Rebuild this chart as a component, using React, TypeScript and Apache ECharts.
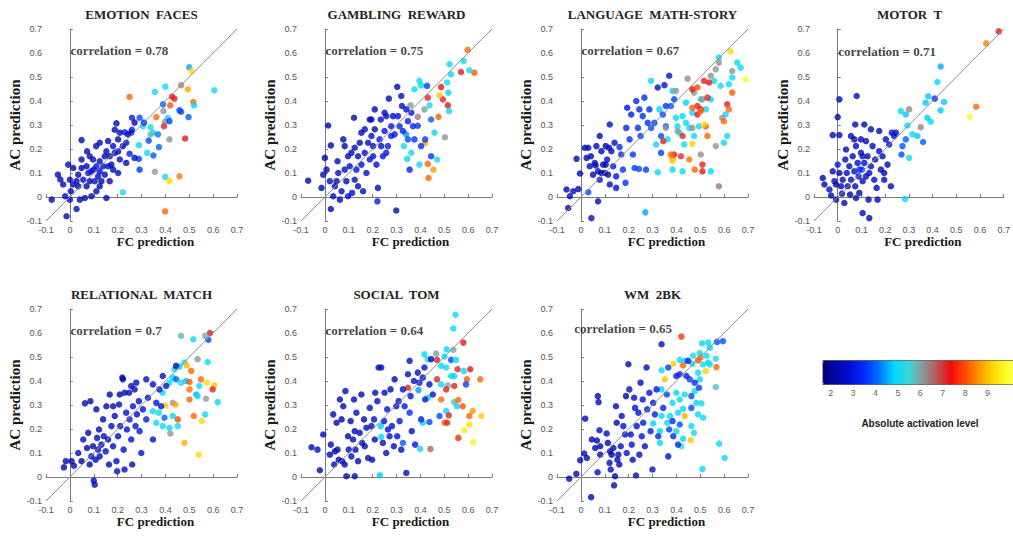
import React, { useEffect, useRef } from "react";
import * as echarts from "echarts";

type P = [number, number, number];

const TITLES = ["EMOTION  FACES", "GAMBLING  REWARD", "LANGUAGE  MATH-STORY", "MOTOR  T", "RELATIONAL  MATCH", "SOCIAL  TOM", "WM  2BK"];
const CORRELATIONS = ["0.78", "0.75", "0.67", "0.71", "0.7", "0.64", "0.65"];
const CORR_X = [0, 0, 0, 0, 0, 0, -0.03];
const CORR_Y = [0.61, 0.61, 0.61, 0.605, 0.61, 0.61, 0.618];
const AXIS_MIN = -0.1;
const AXIS_MAX = 0.7;
const AXIS_STEP = 0.1;
const COLORBAR_TICKS = [2, 3, 4, 5, 6, 7, 8, 9];
const COLORBAR_MIN = 1.6;
const COLORBAR_MAX = 10;
const COLORBAR_COLORS = ["#000080", "#0008aa", "#0010d8", "#0030ff", "#0078ff", "#00d8ff", "#38d8d8", "#8c9898", "#b85858", "#f00a0a", "#ff4a00", "#ff9a00", "#ffdc00", "#ffff30", "#ffff90"];

const emotionFaces: P[] = [
  [0.50,0.54,4.3],[0.51,0.525,8.8],[0.466,0.466,6.0],[0.40,0.46,4.7],[0.356,0.438,4.8],[0.25,0.417,7.8],[0.428,0.418,6.9],[0.438,0.41,6.8],[0.494,0.449,8.3],[0.605,0.445,4.8],[0.517,0.396,7.8],[0.52,0.382,4.6],[0.39,0.386,3.8],[0.42,0.382,7.7],[0.459,0.361,3.5],[0.466,0.355,3.6],[0.392,0.358,5.8],[0.362,0.333,7.8],[0.292,0.33,3.6],[0.41,0.33,4.7],[0.497,0.333,3.8],[0.399,0.314,5.9],[0.394,0.295,6.8],[0.417,0.316,3.5],[0.306,0.295,4.8],[0.338,0.291,4.9],[0.348,0.268,4.7],[0.369,0.261,4.0],[0.338,0.261,5.5],[0.289,0.216,4.7],[0.33,0.235,3.6],[0.373,0.208,3.8],[0.417,0.24,5.8],[0.483,0.244,6.9],[0.324,0.184,4.8],[0.35,0.173,3.7],[0.289,0.159,3.5],[0.292,0.114,3.5],[0.356,0.105,5.8],[0.399,0.084,4.8],[0.417,0.068,8.8],[0.459,0.086,8.0],[0.399,-0.06,7.8],[0.222,0.02,4.8],[0.25,0.18,3.0],[0.23,0.27,3.0],[0.26,0.28,3.2],[0.26,0.33,3.0],[0.31,0.31,3.2],
  [-0.076,-0.011,2.2],[-0.014,-0.08,2.3],[-0.05,0.093,2.2],[-0.04,0.073,2.4],[-0.007,0.135,2.3],[0.014,0.121,2.2],[-0.02,0.003,2.5],[0,-0.011,2.3],[0.004,0.024,2.2],[0.028,-0.05,2.4],[0.042,-0.011,2.3],[0.049,0.156,2.2],[0.049,0.237,2.3],[0.056,0.072,2.5],[0.07,0.045,2.3],[0.072,0.19,2.2],[0.077,0.1,2.6],[0.09,0.003,2.3],[0.097,0.156,2.4],[0.1,0.114,2.7],[0.11,0.212,2.3],[0.118,0.086,2.5],[0.125,0.045,2.2],[0.125,0.226,2.3],[0.139,0.128,2.6],[0.146,0.17,2.4],[0.153,-0.004,2.3],[0.16,0.233,2.2],[0.167,0.066,2.4],[0.174,0.135,2.3],[0.188,0.184,2.5],[0.195,0.307,2.2],[0.202,0.24,2.3],[0.202,0.1,2.4],[0.209,0.156,2.6],[0.222,0.212,2.4],[0.236,0.226,2.5],[0.243,0.261,2.6],[0.257,0.268,2.4],[0.271,0.31,2.3],[0.271,0.163,2.5],[0.236,0.142,2.4],[0.181,0.114,2.3],[0.167,0.17,2.2],[0.028,0.066,2.3],[0.035,0.045,2.2],[0.07,0.128,2.4],[0.083,0.066,2.3],[0.104,0.066,2.5],[0.111,0.024,2.2],[0.125,0.107,2.6],[0.132,0.066,2.3],[0.146,0.093,2.4],[0.16,0.128,2.5],[0.083,0.17,2.3],[0.111,0.128,2.8],[0.063,-0.004,2.2],[0.049,0.121,2.3],[0.014,0.052,2.4],[0,0.072,2.2],[-0.028,0.052,2.3],[0.035,0.093,2.2],[0.09,0.107,2.7],[0.125,0.149,2.4],[0.153,0.19,2.3],[0.181,0.212,2.5],[0.202,0.19,2.3],[0.209,0.268,2.4],[0.188,0.28,2.2]
];

const gamblingReward: P[] = [
  [0.598,0.613,7.8],[0.522,0.553,4.7],[0.581,0.567,4.7],[0.57,0.521,6.9],[0.626,0.518,7.7],[0.605,0.528,4.8],[0.528,0.511,4.8],[0.396,0.484,4.8],[0.403,0.465,4.6],[0.375,0.449,4.7],[0.487,0.458,6.9],[0.512,0.477,4.8],[0.517,0.435,4.7],[0.431,0.414,6.8],[0.494,0.407,6.8],[0.48,0.424,8.6],[0.515,0.382,6.9],[0.52,0.358,4.7],[0.359,0.382,5.8],[0.438,0.382,4.8],[0.417,0.365,5.7],[0.389,0.334,6.1],[0.476,0.334,7.8],[0.445,0.323,3.8],[0.459,0.268,4.7],[0.503,0.249,5.8],[0.42,0.226,8.2],[0.331,0.212,4.8],[0.362,0.184,4.8],[0.345,0.159,4.7],[0.396,0.135,4.8],[0.431,0.138,7.8],[0.47,0.156,4.8],[0.455,0.114,8.2],[0.434,0.079,7.8],[0.34,0.261,4.2],[0.348,0.24,3.6],[0.375,0.24,3.4],[0.389,0.297,3.4],[0.403,0.212,3.3],[0.42,0.24,3.5],[0.445,0.17,3.4],[0.428,0.463,3.5],
  [-0.07,0.068,2.2],[-0.014,0.038,2.3],[-0.007,0.093,2.4],[0,0.163,2.2],[0.014,0.298,2.3],[0.021,0.066,2.5],[0.025,-0.05,2.3],[0.025,0.215,2.2],[0.035,0.003,2.6],[0.042,0.045,2.4],[0.053,0.149,2.3],[0.056,0.1,2.5],[0.063,-0.011,2.3],[0.07,0.024,2.4],[0.077,0.24,2.2],[0.083,0.114,2.6],[0.09,0.066,2.3],[0.097,0.17,2.5],[0.104,0.128,2.4],[0.111,0.184,2.3],[0.114,0.017,2.7],[0.122,0.33,2.2],[0.125,0.072,2.5],[0.132,0.114,2.8],[0.139,0.17,2.4],[0.146,0.226,2.3],[0.153,0.268,2.2],[0.153,0.135,2.6],[0.16,0.024,2.4],[0.167,0.184,2.7],[0.174,0.1,2.5],[0.181,0.226,2.4],[0.188,0.156,2.9],[0.195,0.323,2.3],[0.195,0.254,2.5],[0.202,0.212,2.6],[0.209,0.282,2.4],[0.216,0.135,2.7],[0.222,0.038,2.4],[0.22,-0.018,3.0],[0.229,0.24,2.8],[0.234,0.323,2.5],[0.243,0.17,2.9],[0.25,0.275,2.7],[0.257,0.337,2.5],[0.264,0.212,3.0],[0.268,0.41,2.4],[0.278,0.295,2.8],[0.285,0.337,2.6],[0.292,0.261,3.0],[0.303,0.459,2.3],[0.306,0.337,2.8],[0.313,0.295,3.1],[0.32,0.421,2.5],[0.323,0.379,2.6],[0.327,0.275,3.1],[0.341,0.365,2.8],[0.348,0.316,3.0],[0.355,0.114,3.1],[0.362,0.351,2.9],[0.369,0.295,3.2],[0.299,-0.056,2.3],[0.236,0.212,2.7],[0.209,0.365,2.4],[0.167,0.282,2.5],[0.125,0.205,2.4],[0.083,0.212,2.3],[0.049,0.066,2.4],[0.007,0.114,2.2],[0.097,0.003,2.5],[0.139,0.045,2.3],[0.202,0.17,2.8],[0.257,0.184,2.9],[0.278,0.254,3.0],[0.25,0.351,2.6],[0.188,0.323,2.4]
];

const languageMathStory: P[] = [
  [-0.06,0.031,2.2],[-0.046,0.003,2.3],[-0.053,-0.046,2.2],[-0.032,0.024,2.4],[-0.011,0.033,2.3],[-0.018,0.159,2.2],[-0.004,0.098,2.3],[0.017,0.205,2.2],[0.031,0.205,2.4],[0.024,0.163,2.3],[0.037,0.128,2.5],[0.031,0.02,3.6],[0.044,-0.088,2.4],[0.051,0.093,2.3],[0.058,0.142,2.5],[0.065,0.212,2.2],[0.072,0.107,2.4],[0.072,-0.018,2.3],[0.079,0.254,2.2],[0.079,0.072,2.6],[0.086,0.191,2.3],[0.093,0.135,2.4],[0.1,0.1,2.5],[0.104,0.212,2.3],[0.11,0.156,2.6],[0.114,0.093,2.4],[0.121,0.302,2.8],[0.121,0.052,2.6],[0.128,0.191,2.5],[0.135,0.128,2.8],[0.141,0.226,2.6],[0.148,0.038,2.7],[0.148,0.086,2.9],[0.104,0.135,2.4],[0.086,0.1,2.3],[0.062,0.131,2.4],[0.042,0.17,2.2],[0.118,0.205,2.6],
  [0.162,0.208,3.2],[0.169,0.177,3.3],[0.187,0.059,3.4],[0.19,0.288,3.0],[0.194,0.372,2.8],[0.204,0.24,3.3],[0.211,0.344,3.0],[0.218,0.177,3.4],[0.225,0.121,3.5],[0.232,0.4,3.1],[0.239,0.288,3.3],[0.245,0.365,3.2],[0.25,0.254,3.4],[0.259,0.337,3.2],[0.266,0.414,3.3],[0.273,0.114,3.5],[0.28,0.309,3.4],[0.287,0.365,3.3],[0.294,0.288,3.6],[0.308,0.309,3.5],[0.322,0.456,2.6],[0.336,0.254,3.6],[0.343,0.344,3.5],[0.35,0.466,2.7],[0.356,0.379,3.4],[0.37,0.505,2.8],[0.377,0.379,3.6],[0.391,0.407,3.5],[0.176,0.114,3.4],[0.336,0.184,3.5],[0.243,0.117,3.6],[0.356,0.295,3.7],[0.27,-0.064,4.3],
  [0.294,0.484,4.7],[0.322,0.103,4.7],[0.329,0.365,4.6],[0.315,0.219,4.7],[0.363,0.24,4.8],[0.384,0.442,4.7],[0.398,0.33,4.6],[0.405,0.295,4.8],[0.412,0.268,4.7],[0.426,0.337,4.6],[0.44,0.309,4.7],[0.433,0.219,4.8],[0.454,0.288,4.7],[0.467,0.351,4.6],[0.474,0.254,4.7],[0.495,0.295,4.8],[0.523,0.365,4.7],[0.544,0.407,4.6],[0.558,0.484,4.7],[0.578,0.581,4.7],[0.585,0.463,4.8],[0.606,0.344,4.7],[0.62,0.47,4.6],[0.634,0.498,4.7],[0.655,0.56,4.7],[0.669,0.539,4.8],[0.599,0.226,4.7],[0.544,0.107,4.6],[0.613,0.254,4.8],[0.426,0.107,4.7],[0.384,0.114,4.7],[0.44,0.393,4.6],[0.502,0.407,4.7],
  [0.356,0.288,5.8],[0.447,0.493,5.9],[0.474,0.435,5.8],[0.509,0.407,5.8],[0.544,0.505,5.9],[0.565,0.532,5.8],[0.578,0.56,5.9],[0.592,0.33,5.8],[0.634,0.525,5.8],[0.502,0.177,5.9],[0.565,0.212,5.8],[0.578,0.045,6.1],[0.405,0.275,5.7],[0.398,0.442,5.8],[0.467,0.288,5.8],
  [0.345,0.233,6.8],[0.391,0.177,6.9],[0.426,0.254,6.8],[0.419,0.17,6.7],[0.467,0.449,6.9],[0.488,0.379,6.8],[0.502,0.365,6.9],[0.516,0.484,6.8],[0.53,0.414,6.8],[0.537,0.477,6.9],[0.509,0.135,6.8],[0.509,0.107,6.9],[0.613,0.386,6.8],[0.488,0.344,6.9],
  [0.377,0.177,7.8],[0.384,0.159,7.9],[0.467,0.372,7.7],[0.477,0.114,7.8],[0.454,0.156,7.9],[0.502,0.358,7.8],[0.523,0.295,7.6],[0.53,0.254,7.8],[0.634,0.435,7.7],[0.599,0.316,7.8],[0.62,0.365,7.8],[0.488,0.456,7.6],
  [0.384,0.149,8.8],[0.467,0.222,8.7],[0.516,0.302,8.8],[0.627,0.606,8.8],[0.69,0.49,9.3]
];

const motorT: P[] = [
  [0.679,0.69,6.9],[0.626,0.64,8.0],[0.584,0.376,7.8],[0.557,0.334,9.3],[0.434,0.544,4.3],[0.42,0.479,4.6],[0.409,0.41,3.2],[0.382,0.42,4.5],[0.371,0.393,4.5],[0.448,0.396,4.5],[0.434,0.361,4.5],[0.301,0.365,6.0],[0.287,0.344,4.5],[0.266,0.358,4.6],[0.378,0.33,4.5],[0.392,0.314,4.6],[0.35,0.291,6.0],[0.294,0.298,4.6],[0.315,0.261,4.6],[0.336,0.254,4.5],[0.36,0.229,3.8],[0.301,0.163,4.8],[0.287,0.24,3.8],[0.273,0.212,3.7],[0.269,0.177,3.6],[0.284,-0.008,4.6],
  [0.007,0.407,2.5],[0.08,0.421,2.6],[0.074,0.302,2.3],[0,0.333,2.2],[-0.021,0.258,2.3],[0.007,0.258,2.4],[0.056,0.254,2.3],[0.07,0.24,2.2],[0.119,0.233,2.4],[0.035,0.198,2.3],[-0.063,0.079,2.2],[-0.056,0.052,2.3],[-0.035,0.031,2.4],[-0.028,0.006,2.2],[-0.021,0.107,2.3],[-0.014,0.066,2.2],[-0.007,-0.011,2.4],[0,0.135,2.9],[0.007,0.1,2.3],[0.014,0.045,2.2],[0.018,0.014,2.4],[0.021,0.072,2.3],[0.028,-0.025,2.2],[0.032,0.156,2.4],[0.038,0.1,2.6],[0.042,0.045,2.3],[0.049,0.128,2.5],[0.052,0.01,2.2],[0.056,0.072,2.4],[0.063,0.17,2.3],[0.07,0.107,2.7],[0.074,0.045,2.4],[0.077,0.212,2.3],[0.084,0.142,2.5],[0.088,0.086,2.6],[0.091,0.017,2.3],[0.098,0.184,2.4],[0.102,0.114,3.3],[0.105,0.066,2.5],[0.105,-0.067,2.3],[0.112,0.142,2.6],[0.119,0.086,2.4],[0.126,0.17,2.3],[0.13,-0.011,2.2],[0.133,-0.088,2.1],[0.14,0.128,2.4],[0.147,0.212,2.3],[0.154,0.072,2.5],[0.158,0.156,2.4],[0.164,0.038,2.3],[0.175,0.191,2.6],[0.182,0.114,2.4],[0.189,0.17,2.5],[0.196,0.072,2.3],[0.203,0.24,2.7],[0.21,0.135,2.4],[0.217,0.219,2.6],[0.224,0.045,2.3],[0.228,0.268,2.8],[0.238,0.254,2.7],[0.245,0.268,2.6],[0.175,0.275,2.3],[0.14,0.282,2.4],[0.112,0.302,2.2],[0.098,0.24,2.4],[0.196,0.1,2.5],[-0.007,0.052,2.3],[0.077,-0.004,2.4],[0.133,0.1,2.5],[0.168,-0.011,2.3],[0.091,0.114,3.4],[0.105,0.17,2.6]
];

const relationalMatch: P[] = [
  [0.587,0.6,6.9],[0.466,0.588,5.5],[0.517,0.574,4.7],[0.58,0.572,3.5],[0.567,0.588,5.6],[0.535,0.491,5.8],[0.577,0.479,4.7],[0.48,0.477,4.8],[0.49,0.465,8.5],[0.508,0.442,7.8],[0.438,0.449,4.8],[0.459,0.46,4.7],[0.431,0.414,4.6],[0.417,0.393,4.7],[0.445,0.407,3.8],[0.466,0.393,4.7],[0.487,0.4,4.4],[0.501,0.396,7.7],[0.549,0.407,7.8],[0.574,0.393,8.8],[0.605,0.382,8.6],[0.598,0.365,6.8],[0.542,0.379,4.7],[0.501,0.365,7.9],[0.529,0.344,4.4],[0.501,0.323,7.8],[0.57,0.326,5.8],[0.535,0.337,4.7],[0.389,0.351,4.7],[0.4,0.298,8.6],[0.431,0.309,5.8],[0.442,0.302,8.3],[0.348,0.274,4.7],[0.373,0.268,4.7],[0.396,0.247,3.8],[0.431,0.254,4.6],[0.452,0.24,7.6],[0.519,0.254,7.8],[0.567,0.261,4.7],[0.619,0.312,4.7],[0.553,0.233,8.8],[0.362,0.226,4.7],[0.389,0.212,4.8],[0.417,0.205,4.6],[0.452,0.212,4.7],[0.421,0.181,5.8],[0.48,0.142,8.4],[0.54,0.093,8.8],
  [-0.025,0.04,2.2],[-0.017,0.066,2.3],[0.007,0.066,2.2],[0.017,0.047,2.4],[0.035,0.1,2.3],[0.049,0.066,2.2],[0.056,0.156,2.4],[0.063,0.307,2.3],[0.072,0.121,2.2],[0.077,0.184,2.4],[0.083,0.052,2.3],[0.086,0.316,2.2],[0.09,0.086,2.5],[0.097,0.128,2.3],[0.1,-0.015,2.4],[0.104,-0.032,2.6],[0.108,0.072,2.3],[0.111,0.282,2.2],[0.114,0.163,2.4],[0.118,0.114,2.6],[0.122,0.198,2.3],[0.125,0.086,2.5],[0.132,0.135,2.4],[0.139,0.24,2.3],[0.142,0.17,2.5],[0.15,0.107,2.6],[0.153,0.295,2.3],[0.16,0.156,2.4],[0.164,0.052,2.3],[0.167,0.344,2.2],[0.174,0.212,2.5],[0.181,0.128,2.4],[0.188,0.254,2.3],[0.195,0.066,2.4],[0.198,0.024,2.3],[0.202,0.17,2.6],[0.206,0.302,2.4],[0.211,0.212,2.5],[0.22,0.414,2.3],[0.222,0.407,2.2],[0.225,0.114,2.6],[0.229,0.031,2.5],[0.236,0.268,2.7],[0.239,0.198,2.8],[0.248,0.351,2.5],[0.25,0.24,2.9],[0.257,0.156,2.6],[0.261,0.052,2.4],[0.264,0.295,2.7],[0.271,0.365,2.4],[0.275,0.212,2.8],[0.281,0.261,2.6],[0.289,0.316,2.5],[0.292,0.191,2.9],[0.299,0.1,2.7],[0.306,0.282,2.8],[0.32,0.407,2.4],[0.327,0.33,2.6],[0.348,0.156,2.5],[0.362,0.309,2.9],[0.375,0.365,2.7],[0.389,0.421,2.4],[0.403,0.379,2.8],[0.445,0.463,2.5],[0.348,0.386,2.6],[0.278,0.393,2.4],[0.257,0.379,2.3],[0.229,0.351,2.5],[0.209,0.344,2.3],[0.181,0.295,2.4],[0.32,0.24,3.0],[0.382,0.295,2.9]
];

const socialTom: P[] = [
  [0.547,0.676,4.7],[0.538,0.619,4.7],[0.58,0.56,6.9],[0.51,0.532,4.7],[0.538,0.53,5.7],[0.466,0.514,5.7],[0.417,0.511,4.7],[0.431,0.49,4.8],[0.501,0.502,4.6],[0.529,0.488,3.6],[0.549,0.488,4.7],[0.47,0.488,6.8],[0.487,0.463,4.7],[0.508,0.456,4.8],[0.556,0.449,6.8],[0.582,0.442,4.7],[0.609,0.449,6.9],[0.47,0.407,6.8],[0.529,0.421,4.7],[0.542,0.421,4.6],[0.595,0.407,7.7],[0.651,0.407,7.8],[0.515,0.382,5.6],[0.508,0.365,6.8],[0.542,0.379,6.8],[0.591,0.386,3.5],[0.487,0.386,4.7],[0.348,0.372,6.8],[0.392,0.362,4.2],[0.431,0.33,4.7],[0.487,0.323,7.8],[0.542,0.312,5.5],[0.559,0.321,7.8],[0.577,0.295,7.6],[0.553,0.295,4.7],[0.619,0.275,8.2],[0.605,0.254,7.8],[0.655,0.254,8.7],[0.48,0.254,3.6],[0.508,0.275,4.7],[0.519,0.257,6.8],[0.501,0.226,7.8],[0.512,0.226,6.8],[0.605,0.219,8.8],[0.585,0.195,9.0],[0.559,0.163,7.3],[0.621,0.145,9.2],[0.442,0.117,6.3],[0.399,0.117,4.7],[0.327,0.142,3.8],[0.355,0.268,3.4],[0.41,0.226,4.7],[0.438,0.229,3.6],[0.23,0.007,4.5],[0.234,0.212,4.5],[0.236,0.167,4.6],
  [-0.056,0.124,2.2],[-0.031,0.114,2.3],[-0.021,0.028,2.2],[-0.007,0.177,2.4],[0.021,0.093,2.3],[0.025,0.135,2.2],[0.035,0.261,2.3],[0.039,0.052,2.4],[0.042,0.107,2.2],[0.049,0.226,2.3],[0.053,0.114,2.4],[0.058,0.072,2.2],[0.063,0.323,2.3],[0.07,0.24,2.2],[0.072,0.066,2.4],[0.077,0.295,2.3],[0.083,0.052,2.2],[0.086,0.358,2.4],[0.09,0.003,2.3],[0.097,0.17,2.2],[0.1,0.114,2.5],[0.108,0.233,2.3],[0.111,0.086,2.4],[0.118,0.156,2.3],[0.122,0.323,2.2],[0.125,0.191,2.4],[0.128,0.114,2.3],[0.132,0.268,2.5],[0.139,0.066,2.3],[0.146,0.184,2.4],[0.153,0.344,2.2],[0.156,0.142,2.5],[0.164,0.24,2.3],[0.174,0.205,2.4],[0.181,0.079,2.3],[0.188,0.288,2.5],[0.195,0.212,2.4],[0.198,0.072,2.3],[0.206,0.24,2.6],[0.211,0.351,2.4],[0.22,0.316,2.5],[0.225,0.456,2.3],[0.236,0.456,2.4],[0.243,0.142,2.6],[0.248,0.233,2.7],[0.25,0.351,2.5],[0.257,0.1,2.4],[0.261,0.282,2.8],[0.264,0.198,2.7],[0.271,0.17,2.5],[0.275,0.365,2.4],[0.281,0.212,2.8],[0.289,0.128,2.6],[0.292,0.407,2.3],[0.299,0.295,2.7],[0.303,0.17,2.5],[0.309,0.316,2.8],[0.313,0.233,2.9],[0.32,0.114,2.6],[0.327,0.365,2.7],[0.334,0.295,2.9],[0.341,0.017,2.4],[0.348,0.428,2.5],[0.355,0.484,2.6],[0.359,0.337,2.8],[0.364,0.191,2.7],[0.373,0.4,2.6],[0.378,0.135,2.8],[0.389,0.435,2.5],[0.396,0.393,2.7],[0.403,0.24,3.0],[0.41,0.414,2.6],[0.42,0.323,2.9],[0.438,0.386,2.7],[0.445,0.491,2.5],[0.452,0.344,2.8],[0.417,0.456,2.6],[0.209,0.156,2.4],[0.167,0.128,2.3],[0.125,0.003,2.2]
];

const wm2bk: P[] = [
  [0.421,0.585,7.4],[0.501,0.498,7.8],[0.491,0.486,7.7],[0.508,0.557,4.7],[0.533,0.56,4.7],[0.54,0.539,4.6],[0.57,0.563,3.6],[0.595,0.566,3.7],[0.498,0.516,4.7],[0.47,0.505,4.8],[0.526,0.505,4.7],[0.533,0.477,4.7],[0.565,0.493,5.0],[0.414,0.488,4.7],[0.435,0.484,4.6],[0.387,0.472,8.7],[0.428,0.465,7.8],[0.467,0.472,4.7],[0.512,0.469,4.8],[0.54,0.469,4.7],[0.568,0.458,7.8],[0.338,0.445,4.7],[0.366,0.456,3.5],[0.352,0.407,8.6],[0.523,0.442,8.7],[0.491,0.435,4.7],[0.456,0.407,3.5],[0.498,0.407,4.7],[0.338,0.365,4.7],[0.36,0.344,3.5],[0.4,0.351,4.6],[0.435,0.344,4.7],[0.477,0.358,4.7],[0.463,0.337,3.6],[0.495,0.372,3.5],[0.565,0.375,5.4],[0.384,0.309,4.7],[0.414,0.323,4.6],[0.428,0.284,4.7],[0.484,0.309,4.7],[0.505,0.307,4.8],[0.463,0.288,3.6],[0.338,0.254,4.7],[0.373,0.254,4.6],[0.407,0.268,4.7],[0.435,0.254,8.4],[0.491,0.261,4.7],[0.512,0.247,4.8],[0.362,0.226,4.7],[0.414,0.219,3.6],[0.463,0.212,4.7],[0.331,0.191,4.6],[0.37,0.198,3.5],[0.4,0.191,4.7],[0.46,0.153,8.6],[0.428,0.159,4.7],[0.474,0.184,4.8],[0.331,0.142,4.6],[0.421,0.128,5.2],[0.579,0.139,4.7],[0.602,0.079,4.7],[0.509,0.033,4.6],[0.303,0.223,4.6],
  [-0.049,-0.007,2.2],[-0.019,0.013,2.3],[-0.003,0.07,2.2],[0.014,0.098,2.4],[0.018,0.243,2.3],[0.025,0.079,2.2],[0.046,0.156,2.3],[0.043,-0.084,2.4],[0.06,0.121,2.2],[0.067,0.152,2.3],[0.07,0.02,2.4],[0.071,0.337,2.2],[0.074,0.312,2.3],[0.078,0.195,2.4],[0.081,0.128,2.3],[0.081,0.093,2.2],[0.108,0.181,2.4],[0.113,0.142,2.3],[0.12,0.059,2.5],[0.122,0.107,2.3],[0.125,0.031,2.4],[0.129,0.093,2.2],[0.136,0.121,2.5],[0.139,-0.035,2.3],[0.143,0.003,2.4],[0.147,0.295,2.3],[0.15,0.226,2.2],[0.153,0.072,2.5],[0.157,0.093,2.4],[0.161,0.052,2.3],[0.167,0.128,2.6],[0.171,0.254,2.4],[0.178,0.212,2.7],[0.185,0.177,2.5],[0.189,0.337,2.3],[0.192,0.1,2.6],[0.199,0.47,2.3],[0.203,0.365,2.4],[0.209,0.177,2.6],[0.213,0.135,2.7],[0.217,0.072,2.5],[0.223,0.33,2.6],[0.227,0.288,2.7],[0.231,0.006,2.4],[0.234,0.212,2.8],[0.241,0.268,2.7],[0.245,0.093,2.6],[0.25,0.393,2.5],[0.255,0.17,2.8],[0.259,0.323,2.7],[0.261,0.226,2.9],[0.268,0.128,2.7],[0.275,0.456,2.4],[0.278,0.282,2.9],[0.287,0.351,2.7],[0.292,0.191,3.0],[0.3,0.031,2.5],[0.303,0.309,2.9],[0.31,0.261,3.0],[0.317,0.365,2.8],[0.324,0.17,3.1],[0.338,0.553,2.5],[0.345,0.288,3.1],[0.366,0.086,2.8],[0.384,0.233,3.2],[0.387,0.17,3.2],[0.4,0.421,2.9],[0.414,0.428,3.0],[0.407,0.135,3.2],[0.442,0.421,3.1],[0.449,0.484,3.0],[0.477,0.393,3.2]
];

const PANEL_DATA: P[][] = [emotionFaces, gamblingReward, languageMathStory, motorT, relationalMatch, socialTom, wm2bk];

// layout (pixels)
const GRID_LEFTS = [46, 301, 557, 814, 46, 301, 557];
const GRID_TOPS = [29, 29, 29, 29, 309, 309, 309];
const GRID_W = 191;
const GRID_H = 192;
const CB_UNIT = 23.71;
const CB_LABEL_1 = 832 - CB_UNIT; // pixel of value 1 on colorbar axis
const CB_TOP = 360;
const CB_H = 24;

const SERIF = "'Liberation Serif', 'Times New Roman', serif";
const SANS = "'Liberation Sans', Arial, sans-serif";

function fmt(v: number) {
  const r = Math.round(v * 10) / 10;
  return String(r);
}

export default function App() {
  const ref = useRef<HTMLDivElement>(null);
  useEffect(() => {
    if (!ref.current) return;
    const chart = echarts.init(ref.current, null, { renderer: "svg" });
    const grids: any[] = [];
    const xAxes: any[] = [];
    const yAxes: any[] = [];
    const series: any[] = [];
    const titles: any[] = [];
    const scatterIdx: number[] = [];
    PANEL_DATA.forEach((data, i) => {
      grids.push({ left: GRID_LEFTS[i], top: GRID_TOPS[i], width: GRID_W, height: GRID_H, containLabel: false });
      const common = {
        type: "value",
        gridIndex: i,
        min: AXIS_MIN,
        max: AXIS_MAX,
        interval: AXIS_STEP,
        splitLine: { show: false },
        axisLine: { show: true, lineStyle: { color: "#7a7a7a", width: 1 } },
        axisTick: { show: true, inside: true, length: 3, lineStyle: { color: "#7a7a7a" } },
        axisLabel: { fontSize: 9, color: "#555", fontFamily: SANS, formatter: fmt },
        nameLocation: "middle",
      };
      xAxes.push({
        ...common,
        axisLabel: { ...common.axisLabel, margin: 4 },
        name: "FC prediction",
        nameGap: 14,
        nameTextStyle: { fontFamily: SERIF, fontWeight: "bold", fontSize: 13, color: "#1a1a1a", padding: [0, 0, 0, 28] },
      });
      yAxes.push({
        ...common,
        axisLabel: { ...common.axisLabel, margin: 4 },
        name: "AC prediction",
        nameGap: 20,
        nameTextStyle: { fontFamily: SERIF, fontWeight: "bold", fontSize: 15, color: "#1a1a1a" },
      });
      scatterIdx.push(series.length);
      series.push({
        type: "scatter",
        xAxisIndex: i,
        yAxisIndex: i,
        data,
        symbol: "circle",
        symbolSize: 6.5,
        z: 2,
        silent: true,
      });
      series.push({
        type: "line",
        xAxisIndex: i,
        yAxisIndex: i,
        data: [[AXIS_MIN, AXIS_MIN], [AXIS_MAX, AXIS_MAX]],
        showSymbol: false,
        symbol: "none",
        lineStyle: { color: "#8c8c8c", width: 1 },
        z: 3,
        silent: true,
      });
      series.push({
        type: "scatter",
        xAxisIndex: i,
        yAxisIndex: i,
        data: [[CORR_X[i], CORR_Y[i]]],
        symbolSize: 1,
        itemStyle: { color: "rgba(0,0,0,0)" },
        silent: true,
        z: 4,
        label: {
          show: true,
          position: "right",
          distance: 0,
          formatter: () => "correlation = " + CORRELATIONS[i],
          fontFamily: SERIF,
          fontWeight: "bold",
          fontSize: 13,
          color: "#111",
        },
      });
      titles.push({
        text: TITLES[i],
        left: GRID_LEFTS[i] + GRID_W / 2,
        top: GRID_TOPS[i] - 21,
        textAlign: "center",
        padding: 0,
        textStyle: { fontFamily: SERIF, fontWeight: "bold", fontSize: 13, color: "#222" },
      });
    });
    // colorbar axis
    const cbIndex = PANEL_DATA.length;
    grids.push({ left: CB_LABEL_1, top: CB_TOP, width: CB_UNIT * 9, height: CB_H });
    xAxes.push({
      type: "value",
      gridIndex: cbIndex,
      min: 1,
      max: 10,
      interval: 1,
      splitLine: { show: false },
      axisLine: { show: false },
      axisTick: { show: false },
      axisLabel: {
        fontSize: 9,
        color: "#666",
        fontFamily: SANS,
        margin: 4,
        formatter: (v: number) => (COLORBAR_TICKS.indexOf(v) >= 0 ? String(v) : ""),
      },
    });
    yAxes.push({ type: "value", gridIndex: cbIndex, show: false, min: 0, max: 1 });
    series.push({ type: "scatter", xAxisIndex: cbIndex, yAxisIndex: cbIndex, data: [], silent: true });

    chart.setOption({
      animation: false,
      backgroundColor: "#ffffff",
      title: titles,
      grid: grids,
      xAxis: xAxes,
      yAxis: yAxes,
      series,
      visualMap: {
        type: "continuous",
        seriesIndex: scatterIdx,
        dimension: 2,
        min: COLORBAR_MIN,
        max: COLORBAR_MAX,
        orient: "horizontal",
        left: CB_LABEL_1 + (COLORBAR_MIN - 1) * CB_UNIT,
        top: CB_TOP,
        itemWidth: CB_H,
        itemHeight: (COLORBAR_MAX - COLORBAR_MIN) * CB_UNIT,
        calculable: false,
        padding: 0,
        borderColor: "#444",
        borderWidth: 1,
        inRange: { color: COLORBAR_COLORS },
        hoverLink: false,
      },
      graphic: [
        {
          type: "text",
          x: 920,
          y: 423,
          style: {
            text: "Absolute activation level",
            fontFamily: SANS,
            fontWeight: "bold",
            fontSize: 10,
            fill: "#222",
            textAlign: "center",
            textVerticalAlign: "middle",
          },
        },
      ],
    });
    return () => chart.dispose();
  }, []);
  return <div ref={ref} style={{ position: "absolute", left: 0, top: 0, width: 1013, height: 538 }} />;
}
